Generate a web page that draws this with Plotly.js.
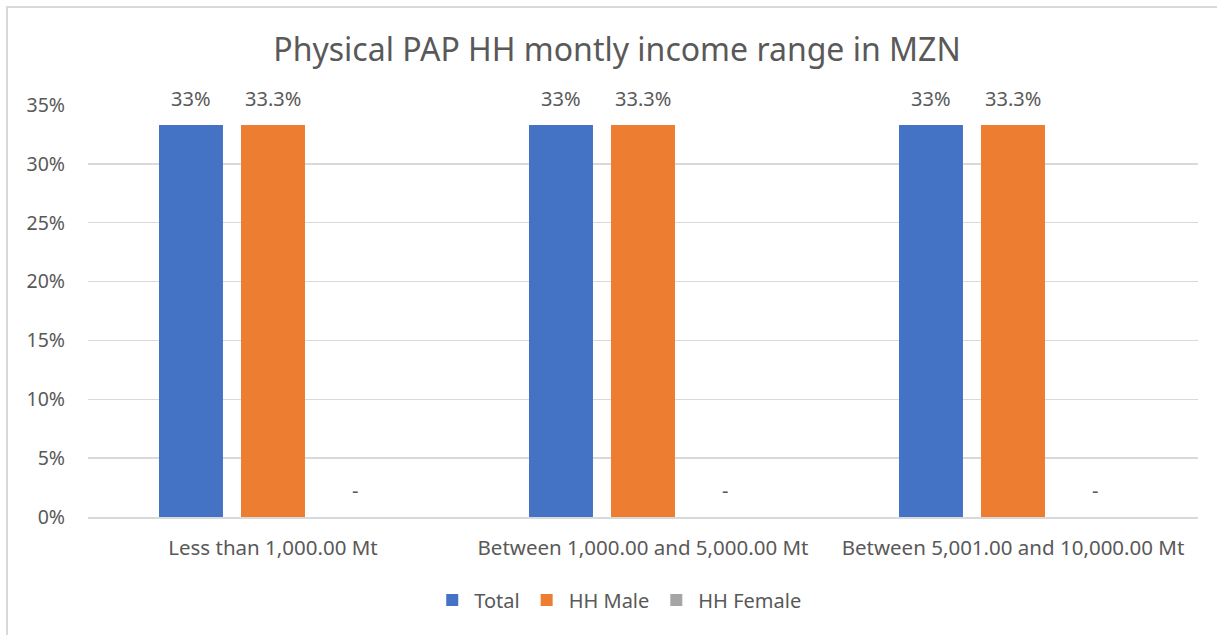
<!DOCTYPE html>
<html>
<head>
<meta charset="utf-8">
<script src="https://cdn.plot.ly/plotly-3.0.1.min.js"></script>
<style>
html,body{margin:0;padding:0;background:#fff;}
#frame{position:absolute;left:6px;top:6px;width:1300px;height:700px;border-left:2px solid #d9d9d9;border-top:2px solid #d9d9d9;}
#chart{position:absolute;left:0;top:0;width:1217px;height:635px;}
</style>
</head>
<body>
<div id="frame"></div>
<div id="chart"></div>
<script>
const categories = ["Less than 1,000.00 Mt", "Between 1,000.00 and 5,000.00 Mt", "Between 5,001.00 and 10,000.00 Mt"];
const seriesNames = ["Total", "HH Male", "HH Female"];
const totalValues = [33.3, 33.3, 33.3];
const maleValues = [33.3, 33.3, 33.3];
const femaleValues = [0, 0, 0];
const totalLabels = ["33%", "33%", "33%"];
const maleLabels = ["33.3%", "33.3%", "33.3%"];
const femaleLabels = ["-", "-", "-"];
const yTickVals = [0, 5, 10, 15, 20, 25, 30, 35];
const yTickText = ["0%", "5%", "10%", "15%", "20%", "25%", "30%", "35%"];

const FONT = "Noto Sans, Open Sans, sans-serif";
const GREY = "#595959";
const COLORS = ["#4472c4", "#ed7d31", "#a5a5a5"];
const BARGAP = 0.335, GROUPGAP = 0.22;
const W = 1217, H = 635, M = {l: 88, r: 19, t: 105, b: 118};

const allValues = [totalValues, maleValues, femaleValues];
const allLabels = [totalLabels, maleLabels, femaleLabels];

const data = allValues.map((vals, i) => ({
  type: "bar", name: seriesNames[i], x: categories, y: vals,
  marker: {color: COLORS[i]}, hoverinfo: "skip"
}));

// data labels as annotations, offset to each bar's slot
const catWidth = (W - M.l - M.r) / categories.length;
const slot = catWidth * (1 - BARGAP) / allValues.length;
const annotations = [];
allValues.forEach((vals, i) => {
  vals.forEach((v, j) => {
    annotations.push({
      x: categories[j], y: v, xref: "x", yref: "y",
      text: allLabels[i][j], showarrow: false,
      xanchor: "center", yanchor: "middle",
      xshift: (i - (allValues.length - 1) / 2) * slot, yshift: 27,
      font: {family: FONT, size: 20, color: GREY}
    });
  });
});

const layout = {
  width: W, height: H,
  paper_bgcolor: "rgba(0,0,0,0)", plot_bgcolor: "rgba(0,0,0,0)",
  margin: M,
  font: {family: FONT, color: GREY, size: 20},
  title: {text: "Physical PAP HH montly income range in MZN", x: 0.507, xref: "container", xanchor: "center", y: 0.921, yref: "container", yanchor: "middle", font: {family: FONT, size: 32, color: GREY}},
  barmode: "group", bargap: BARGAP, bargroupgap: GROUPGAP,
  xaxis: {type: "category", showgrid: false, showline: true, linecolor: "#d9d9d9", linewidth: 1.5, ticks: "", ticklabelstandoff: 12, tickfont: {family: FONT, size: 20.5, color: GREY}, fixedrange: true},
  yaxis: {range: [0, 35], tickvals: yTickVals, ticktext: yTickText, showgrid: true, gridcolor: "#d9d9d9", gridwidth: 1.5, zeroline: false, showline: false, ticks: "", ticklabelstandoff: 22, tickfont: {family: FONT, size: 19.5, color: GREY}, fixedrange: true},
  annotations: annotations,
  showlegend: true,
  legend: {orientation: "h", xref: "container", x: 0.508, xanchor: "center", yref: "container", y: 0.055, yanchor: "middle", font: {family: FONT, size: 20, color: GREY}, itemwidth: 34, tracegroupgap: 0}
};

Plotly.newPlot("chart", data, layout, {displayModeBar: false, staticPlot: true});
</script>
</body>
</html>
